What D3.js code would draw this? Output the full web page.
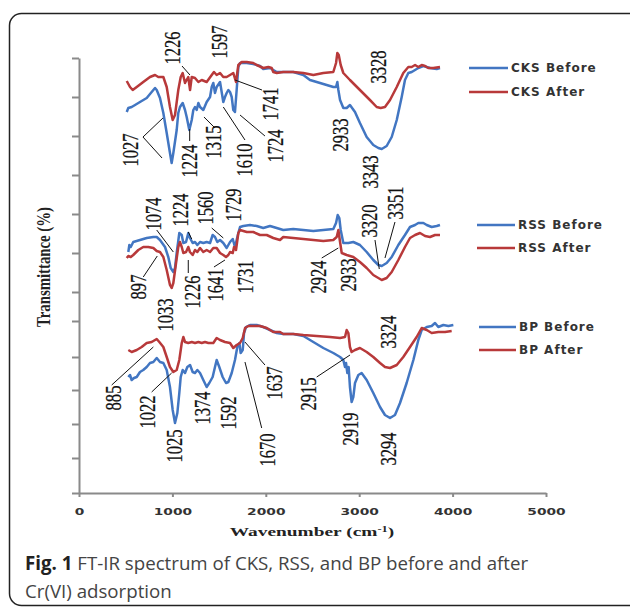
<!DOCTYPE html>
<html>
<head>
<meta charset="utf-8">
<script src="https://cdn.jsdelivr.net/npm/d3@7"></script>
<style>
    body { margin: 0; background: #fff; }
    svg { display: block; }
</style>
</head>
<body>
<div class="chart"></div>
<script>
'use strict';

// wavenumber (cm-1), transmittance (arbitrary, stacked offsets)
const cksBefore = [[511,381],[528,385],[564,386],[600,388],[653,391],[725,395],[778,401],[814,405],[832,403],[867,395],[903,380],[939,360],[974,340],[992,330],[1010,340],[1046,363],[1063,380],[1081,386],[1110,390],[1135,383],[1153,376],[1181,363],[1207,373],[1224,383],[1242,386],[1260,383],[1278,390],[1296,386],[1331,383],[1367,391],[1403,396],[1421,406],[1438,410],[1456,400],[1474,406],[1510,411],[1545,391],[1563,396],[1581,400],[1599,403],[1617,401],[1635,396],[1652,383],[1670,381],[1688,403],[1706,426],[1724,430],[1796,430],[1866,429],[1938,427],[1973,424],[2045,425],[2117,421],[2187,421],[2294,421],[2402,418],[2473,413],[2545,411],[2652,408],[2723,406],[2752,406],[2766,411],[2777,403],[2795,393],[2830,385],[2866,385],[2901,388],[2955,381],[3008,370],[3080,356],[3151,348],[3205,345],[3241,344],[3294,347],[3348,356],[3402,373],[3455,396],[3490,413],[3526,420],[3562,421],[3598,423],[3633,425],[3687,427],[3758,425],[3830,424],[3865,425]];
const cksAfter = [[511,412],[546,406],[575,403],[618,406],[688,411],[760,416],[814,418],[849,416],[903,416],[939,406],[974,386],[1003,373],[1028,378],[1063,403],[1089,416],[1110,420],[1135,410],[1170,416],[1189,403],[1207,416],[1242,415],[1278,411],[1314,413],[1367,411],[1421,418],[1445,421],[1474,418],[1510,420],[1545,416],[1581,416],[1617,418],[1652,420],[1681,411],[1706,428],[1742,431],[1796,431],[1866,430],[1903,428],[1973,425],[2027,426],[2063,425],[2080,421],[2117,420],[2187,421],[2294,421],[2402,420],[2509,418],[2616,420],[2723,421],[2752,430],[2766,440],[2781,438],[2802,428],[2830,420],[2901,413],[3008,403],[3115,393],[3187,386],[3230,385],[3276,386],[3330,393],[3402,406],[3472,420],[3526,426],[3562,426],[3598,428],[3633,426],[3669,428],[3705,427],[3740,425],[3793,425],[3865,426]];

const rssBefore = [[528,241],[539,248],[554,246],[581,251],[653,253],[725,255],[796,256],[832,256],[867,253],[921,246],[956,236],[982,225],[1010,221],[1028,225],[1046,240],[1074,260],[1100,258],[1117,250],[1146,251],[1170,260],[1188,255],[1217,250],[1242,251],[1267,248],[1296,251],[1331,250],[1367,251],[1403,250],[1431,258],[1456,256],[1481,251],[1510,253],[1545,250],[1581,245],[1617,251],[1646,254],[1670,246],[1688,253],[1706,260],[1724,266],[1759,267],[1831,268],[1903,267],[1973,265],[2045,267],[2117,265],[2187,263],[2294,264],[2402,263],[2509,262],[2616,263],[2723,264],[2752,270],[2770,278],[2787,275],[2802,263],[2830,250],[2884,250],[2937,251],[3008,248],[3080,241],[3151,233],[3205,228],[3241,227],[3294,230],[3348,236],[3419,248],[3490,258],[3544,266],[3598,268],[3633,270],[3687,270],[3723,268],[3776,266],[3830,267],[3865,268]];
const rssAfter = [[511,235],[528,237],[554,236],[581,238],[635,243],[688,246],[742,246],[796,245],[832,242],[867,241],[903,236],[939,223],[974,208],[992,205],[1010,210],[1039,230],[1063,246],[1081,251],[1100,246],[1117,240],[1146,241],[1170,246],[1188,241],[1217,238],[1242,243],[1267,241],[1296,245],[1331,241],[1367,243],[1403,241],[1438,245],[1474,245],[1510,240],[1545,238],[1574,236],[1599,238],[1617,241],[1646,240],[1660,246],[1681,243],[1706,260],[1724,263],[1796,261],[1866,261],[1938,258],[2010,258],[2080,255],[2152,253],[2187,256],[2294,255],[2402,254],[2509,253],[2616,252],[2723,253],[2759,256],[2777,263],[2795,251],[2813,240],[2866,238],[2937,236],[3008,231],[3080,225],[3151,218],[3205,215],[3241,213],[3294,215],[3348,221],[3419,233],[3490,246],[3544,255],[3598,258],[3651,260],[3705,257],[3758,256],[3812,258],[3865,258]];

const bpBefore = [[528,116],[546,118],[564,113],[589,115],[618,116],[653,121],[688,123],[725,126],[760,130],[796,131],[832,135],[867,131],[903,130],[939,123],[974,106],[1003,83],[1028,70],[1053,80],[1074,100],[1089,116],[1110,123],[1135,120],[1160,126],[1189,128],[1217,121],[1242,120],[1267,123],[1296,120],[1331,113],[1367,106],[1395,110],[1431,116],[1456,126],[1474,133],[1502,126],[1538,116],[1574,110],[1599,111],[1635,120],[1670,133],[1695,146],[1717,150],[1731,140],[1753,143],[1767,160],[1788,166],[1831,168],[1903,168],[1973,166],[2045,163],[2117,160],[2187,159],[2294,159],[2402,157],[2509,151],[2616,145],[2723,140],[2795,136],[2830,133],[2848,126],[2859,130],[2873,120],[2887,126],[2901,106],[2919,91],[2937,96],[2955,110],[2991,118],[3026,120],[3080,113],[3151,100],[3223,86],[3276,78],[3330,75],[3383,78],[3437,90],[3508,110],[3580,133],[3633,153],[3669,163],[3723,166],[3776,167],[3812,170],[3847,166],[3901,168],[3955,167],[4008,168]];
const bpAfter = [[528,143],[564,141],[618,143],[671,146],[725,150],[778,151],[832,154],[860,151],[903,146],[939,136],[974,126],[1010,121],[1046,123],[1074,133],[1100,150],[1117,156],[1135,151],[1170,150],[1207,151],[1242,150],[1278,151],[1314,150],[1349,151],[1385,150],[1438,150],[1474,155],[1510,153],[1563,151],[1617,150],[1652,145],[1688,148],[1724,150],[1753,155],[1778,165],[1813,167],[1866,167],[1938,167],[2010,165],[2080,161],[2152,161],[2187,159],[2294,159],[2402,158],[2545,157],[2687,156],[2795,155],[2848,156],[2866,163],[2884,160],[2901,146],[2919,141],[2955,143],[3008,145],[3080,141],[3151,136],[3223,130],[3276,126],[3330,125],[3402,128],[3472,136],[3544,146],[3615,156],[3669,165],[3723,163],[3776,160],[3847,161],[3919,161],[3990,162]];

const seriesNames = ['CKS Before', 'CKS After', 'RSS Before', 'RSS After', 'BP Before', 'BP After'];
const seriesData = [cksBefore, cksAfter, rssBefore, rssAfter, bpBefore, bpAfter];

const xTicks = [0, 1000, 2000, 3000, 4000, 5000];
const yTicks = [0, 35, 69, 103, 136, 172, 201, 240, 279, 318, 357, 396, 435];

// peak label: text, [wavenumber, T] of label centre, leader lines [wn1, T1, wn2, T2]
const peakLabels = [
    ['1226', [996, 445], [[1103, 427, 1188, 418]]],
    ['1597', [1499, 451], []],
    ['1027', [546, 343], [[685, 356, 899, 375], [685, 356, 889, 335]]],
    ['1224', [1178, 332], [[1185, 364, 1185, 352]]],
    ['1315', [1429, 351], [[1338, 376, 1456, 365]]],
    ['1610', [1767, 333], [[1545, 386, 1777, 353]]],
    ['1724', [2099, 347], [[1724, 378, 1991, 357]]],
    ['1741', [2045, 389], [[1670, 413, 1959, 403]]],
    ['2933', [2795, 358], []],
    ['3328', [3201, 426], []],
    ['3343', [3116, 321], []],
    ['1074', [796, 279], [[832, 263, 1010, 241]]],
    ['1224', [1081, 283], [[1170, 261, 1207, 254]]],
    ['1560', [1349, 285], [[1421, 265, 1545, 255]]],
    ['1729', [1644, 288], []],
    ['897', [626, 206], [[688, 216, 838, 237]]],
    ['1033', [921, 178], []],
    ['1226', [1207, 201], [[1170, 233, 1170, 220]]],
    ['1641', [1456, 208], [[1445, 226, 1563, 233]]],
    ['1731', [1777, 216], []],
    ['2924', [2559, 216], [[2599, 235, 2776, 245]]],
    ['2933', [2880, 218], []],
    ['3320', [3105, 272], [[3169, 253, 3215, 224]]],
    ['3351', [3383, 290], [[3383, 271, 3276, 235]]],
    ['885', [359, 95], [[350, 108, 796, 146]]],
    ['1022', [725, 81], [[778, 101, 992, 120]]],
    ['1025', [1017, 47], []],
    ['1374', [1314, 85], []],
    ['1592', [1595, 80], []],
    ['1670', [2013, 43], [[1777, 131, 1956, 65]]],
    ['1637', [2088, 110], [[1777, 151, 1991, 128]]],
    ['2915', [2452, 99], [[2545, 116, 2902, 138]]],
    ['2919', [2902, 64], []],
    ['3294', [3308, 44], []],
    ['3324', [3308, 161], []]
];

const blue = '#4276c2';
const red = '#b8393a';
const colors = [blue, red, blue, red, blue, red];

// legend entry positions (px): line start, line end, row y
const legendLayout = [
    [469, 508, 68], [469, 508, 92],
    [477, 515, 225], [477, 515, 248],
    [479, 516, 327], [479, 516, 350]
];

const W = 630, H = 609;

const x = d3.scaleLinear().domain([0, 5000]).range([79, 546]);
const y = d3.scaleLinear().domain([0, 435]).range([493, 58]);

const svg = d3.select('.chart').append('svg')
    .attr('width', W)
    .attr('height', H);

svg.append('rect')
    .attr('width', W).attr('height', H)
    .attr('fill', '#fff');

// outer frame
svg.append('rect')
    .attr('x', 9.5).attr('y', 13.5)
    .attr('width', 640).attr('height', 592)
    .attr('rx', 12)
    .attr('fill', 'none')
    .attr('stroke', '#222')
    .attr('stroke-width', 1.5);

function styleAxis(g) {
    g.selectAll('path, line')
        .attr('stroke', '#8a8a8a')
        .attr('stroke-width', 2);
}

svg.append('g')
    .attr('transform', `translate(${x(0)},0)`)
    .call(d3.axisLeft(y).tickValues(yTicks).tickSize(7).tickSizeOuter(0).tickFormat(''))
    .call(styleAxis);

const xAxis = svg.append('g')
    .attr('transform', `translate(0,${y(0)})`)
    .call(d3.axisBottom(x).tickValues(xTicks).tickSize(4).tickSizeOuter(0).tickFormat(d3.format('d')))
    .call(styleAxis);

xAxis.selectAll('text')
    .attr('y', 19)
    .attr('dy', '0.35em')
    .attr('fill', '#333')
    .attr('font-family', 'DejaVu Sans')
    .attr('font-weight', 'bold')
    .attr('font-size', 9.5)
    .attr('textLength', d => String(d).length * 9.6)
    .attr('lengthAdjust', 'spacingAndGlyphs');

// axis titles
svg.append('text')
    .attr('transform', 'translate(312,536) scale(1.55,1)')
    .attr('text-anchor', 'middle')
    .attr('font-family', 'Liberation Serif')
    .attr('font-weight', 'bold')
    .attr('font-size', 12.5)
    .attr('fill', '#222')
    .call(t => {
        t.append('tspan').text('Wavenumber (cm');
        t.append('tspan').attr('dy', -4).attr('font-size', 8).text('-1');
        t.append('tspan').attr('dy', 4).text(')');
    });

svg.append('text')
    .attr('transform', 'translate(50,267) rotate(-90)')
    .attr('text-anchor', 'middle')
    .attr('font-family', 'Liberation Serif')
    .attr('font-weight', 'bold')
    .attr('font-size', 18)
    .attr('fill', '#222')
    .attr('textLength', 120)
    .attr('lengthAdjust', 'spacingAndGlyphs')
    .text('Transmittance (%)');

// spectra
const line = d3.line()
    .x(d => x(d[0]))
    .y(d => y(d[1]));

svg.append('g')
    .selectAll('path')
    .data(seriesData)
    .join('path')
    .attr('d', line)
    .attr('fill', 'none')
    .attr('stroke', (d, i) => colors[i])
    .attr('stroke-width', 2.5)
    .attr('stroke-linejoin', 'round');

// leader lines
const leaders = peakLabels.flatMap(p => p[2]);
svg.append('g')
    .selectAll('line')
    .data(leaders)
    .join('line')
    .attr('x1', d => x(d[0]))
    .attr('y1', d => y(d[1]))
    .attr('x2', d => x(d[2]))
    .attr('y2', d => y(d[3]))
    .attr('stroke', '#111')
    .attr('stroke-width', 1);

// peak labels, rotated and condensed
svg.append('g')
    .selectAll('text')
    .data(peakLabels)
    .join('text')
    .attr('transform', d => `translate(${x(d[1][0])},${y(d[1][1])}) rotate(-90) scale(0.72,1)`)
    .attr('text-anchor', 'middle')
    .attr('dy', '0.35em')
    .attr('font-family', 'Liberation Serif')
    .attr('font-size', 23)
    .attr('fill', '#111')
    .attr('stroke', '#111')
    .attr('stroke-width', 0.25)
    .text(d => d[0]);

// legend
const legend = svg.append('g')
    .selectAll('g')
    .data(seriesNames)
    .join('g');

legend.append('line')
    .attr('x1', (d, i) => legendLayout[i][0])
    .attr('x2', (d, i) => legendLayout[i][1])
    .attr('y1', (d, i) => legendLayout[i][2])
    .attr('y2', (d, i) => legendLayout[i][2])
    .attr('stroke', (d, i) => colors[i])
    .attr('stroke-width', 2.4);

legend.append('text')
    .attr('x', (d, i) => legendLayout[i][1] + 3)
    .attr('y', (d, i) => legendLayout[i][2])
    .attr('dy', '0.35em')
    .attr('font-family', 'DejaVu Sans')
    .attr('font-weight', 'bold')
    .attr('font-size', 12)
    .attr('letter-spacing', 1)
    .attr('fill', '#333')
    .text(d => d);

// caption
const caption = svg.append('text')
    .attr('font-family', 'Open Sans')
    .attr('font-size', 18.7)
    .attr('fill', '#444');

caption.append('tspan')
    .attr('x', 25).attr('y', 570)
    .attr('font-weight', 'bold')
    .attr('fill', '#222')
    .text('Fig. 1');
caption.append('tspan')
    .text(' FT-IR spectrum of CKS, RSS, and BP before and after');
caption.append('tspan')
    .attr('x', 25).attr('y', 598)
    .text('Cr(VI) adsorption');
</script>
</body>
</html>
